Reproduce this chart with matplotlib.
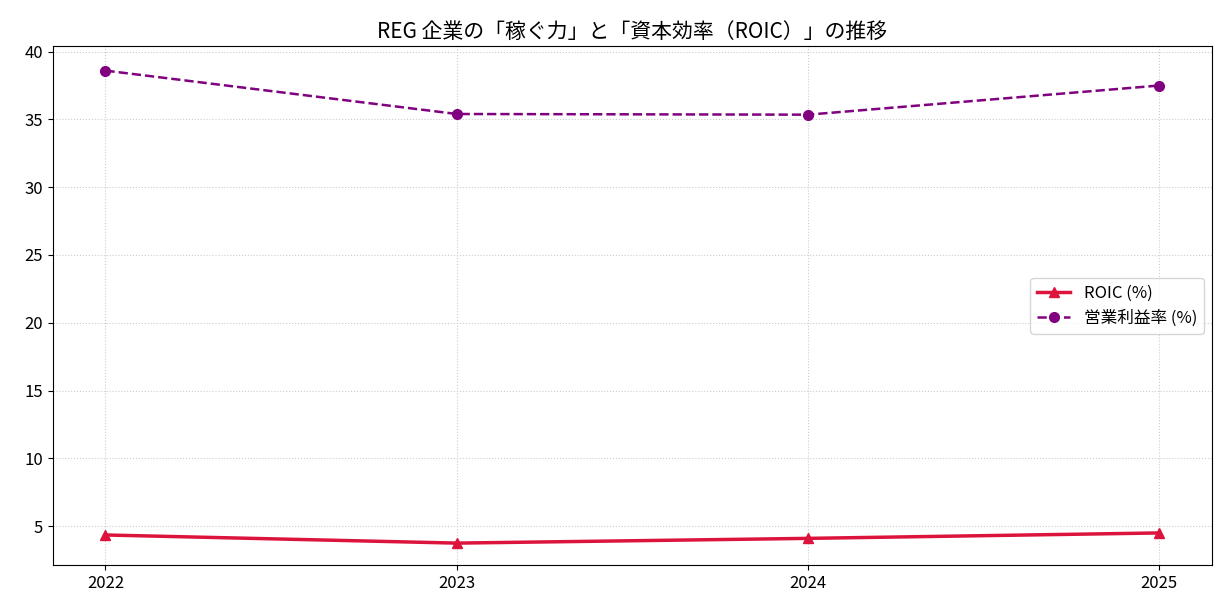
import matplotlib
matplotlib.use("Agg")
import matplotlib.pyplot as plt

plt.rcParams['font.family'] = ['Noto Sans CJK JP', 'DejaVu Sans']

years = ["2022", "2023", "2024", "2025"]
roic = [4.35, 3.75, 4.1, 4.5]
op_margin = [38.6, 35.4, 35.35, 37.5]

fig = plt.figure(figsize=(12.28, 6.16), dpi=100)
ax = fig.add_axes([0.043, 0.082, 0.944, 0.843])
x = range(len(years))
ax.plot(x, roic, color='crimson', marker='^', linewidth=2.5, markersize=7, label='ROIC (%)')
ax.plot(x, op_margin, color='purple', marker='o', linestyle='--', linewidth=1.8, markersize=7, label='営業利益率 (%)')
ax.set_xticks(list(x))
ax.set_xticklabels(years)
ax.set_xlim(-0.15, 3.15)
ax.set_ylim(2.1, 40.4)
ax.tick_params(labelsize=12)
ax.grid(True, linestyle=':', color='#cccccc')
ax.set_title('REG 企業の「稼ぐ力」と「資本効率（ROIC）」の推移', fontsize=15)
ax.legend(loc='center right', fontsize=12)
fig.savefig('out.png', dpi=100)
